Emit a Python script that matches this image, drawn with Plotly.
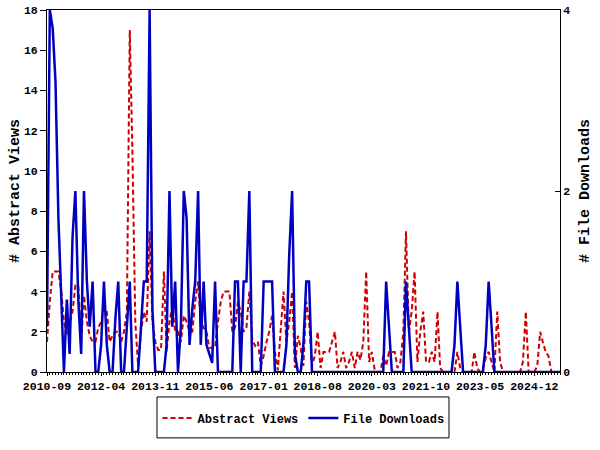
import pandas as pd
import plotly.graph_objects as go

# Monthly series, 2010-09 .. 2025-09
start_month = "2010-09-01"
abstract_views = [
    1.5, 3.5, 5.0, 5.0, 5.0, 4.0, 2.5, 1.9, 2.5, 3.0,
    4.3, 4.3, 1.5, 3.8, 2.5, 1.8, 1.5, 1.5, 2.2, 2.5,
    3.2, 3.0, 1.5, 1.8, 2.0, 2.0, 1.5, 2.0, 3.0, 17.0,
    11.0, 2.5, 0.3, 2.0, 3.0, 2.5, 7.0, 2.5, 1.5, 1.1,
    1.1, 5.0, 1.0, 2.5, 3.3, 2.0, 2.0, 1.5, 2.8, 2.5,
    2.0, 2.0, 3.5, 4.5, 2.5, 2.2, 2.0, 1.2, 1.2, 1.2,
    2.5, 3.5, 4.0, 4.0, 4.0, 2.0, 2.2, 3.5, 3.0, 2.0,
    2.2, 4.0, 1.6, 1.3, 1.5, 0.3, 0.8, 1.5, 2.0, 2.8,
    1.0, 0.1, 2.0, 4.0, 1.5, 2.5, 4.0, 0.2, 1.8, 1.2,
    0.3, 3.5, 2.5, 0.3, 0.8, 2.0, 0.2, 1.0, 1.0, 1.0,
    1.5, 2.0, 0.2, 0.5, 1.0, 0.2, 0.5, 1.0, 0.2, 1.0,
    0.6, 1.5, 5.0, 0.5, 1.0, 0.1, 0.0, 0.0, 0.8, 0.3,
    1.0, 1.0, 1.0, 0.2, 0.5, 2.0, 7.0, 2.0, 3.0, 5.0,
    0.5, 2.0, 3.0, 0.5, 0.5, 1.0, 0.5, 3.0, 0.2, 0.0,
    0.0, 0.0, 0.0, 0.0, 1.0, 0.2, 0.0, 0.0, 0.0, 0.0,
    1.0, 0.2, 0.0, 0.2, 0.7, 1.0, 0.5, 0.0, 3.0, 0.5,
    0.0, 0.0, 0.0, 0.0, 0.0, 0.0, 0.0, 0.5, 3.0, 0.0,
    0.0, 0.0, 0.3, 2.0, 1.5, 1.0, 0.8, 0.0, 0.0, 0.0,
    0.0,
]
file_downloads = [
    0.5, 4.0, 3.8, 3.2, 1.7, 0.8, 0.0, 0.8, 0.2, 1.5,
    2.0, 0.8, 0.2, 2.0, 1.0, 0.5, 1.0, 0.0, 0.0, 0.3,
    1.0, 0.3, 0.0, 0.0, 0.6, 1.0, 0.0, 0.0, 0.5, 1.0,
    0.0, 0.0, 0.0, 0.5, 1.0, 1.0, 4.0, 0.7, 0.0, 0.0,
    0.0, 0.0, 0.3, 2.0, 0.5, 1.0, 0.0, 0.5, 2.0, 1.7,
    0.3, 0.7, 1.0, 2.0, 0.3, 1.0, 0.3, 0.2, 0.1, 1.0,
    0.0, 0.0, 0.0, 0.0, 0.0, 0.0, 1.0, 1.0, 0.0, 1.0,
    1.0, 2.0, 0.0, 0.0, 0.0, 0.0, 1.0, 1.0, 1.0, 1.0,
    0.0, 0.0, 0.0, 0.0, 0.3, 1.3, 2.0, 0.2, 0.0, 0.0,
    0.3, 1.0, 1.0, 0.0, 0.0, 0.0, 0.0, 0.0, 0.0, 0.0,
    0.0, 0.0, 0.0, 0.0, 0.0, 0.0, 0.0, 0.0, 0.0, 0.0,
    0.0, 0.0, 0.0, 0.0, 0.0, 0.0, 0.0, 0.0, 0.0, 1.0,
    0.5, 0.0, 0.0, 0.0, 0.0, 0.0, 1.0, 0.5, 0.0, 0.0,
    0.0, 0.0, 0.0, 0.0, 0.0, 0.0, 0.0, 0.0, 0.0, 0.0,
    0.0, 0.0, 0.0, 0.3, 1.0, 0.5, 0.0, 0.0, 0.0, 0.0,
    0.0, 0.0, 0.0, 0.0, 0.3, 1.0, 0.5, 0.0, 0.0, 0.0,
    0.0, 0.0, 0.0, 0.0, 0.0, 0.0, 0.0, 0.0, 0.0, 0.0,
    0.0, 0.0, 0.0, 0.0, 0.0, 0.0, 0.0, 0.0, 0.0, 0.0,
    0.0,
]
tick_labels = ["2010-09", "2012-04", "2013-11", "2015-06", "2017-01",
               "2018-08", "2020-03", "2021-10", "2023-05", "2024-12"]
left_ticks = [0, 2, 4, 6, 8, 10, 12, 14, 16, 18]
right_ticks = [0, 2, 4]

months = pd.date_range(start_month, periods=len(abstract_views), freq="MS")
tick_dates = [pd.Timestamp(t + "-01") for t in tick_labels]

FONT = "Liberation Mono, DejaVu Sans Mono, monospace"
RED = "#cc0000"
BLUE = "#0000c0"

fig = go.Figure()
fig.add_trace(go.Scatter(
    x=months, y=file_downloads, name="File Downloads", mode="lines",
    line=dict(color=BLUE, width=2.5), yaxis="y2", legendrank=2))
fig.add_trace(go.Scatter(
    x=months, y=abstract_views, name="Abstract Views", mode="lines",
    line=dict(color=RED, width=2, dash="5px,3px"), yaxis="y", legendrank=1))

tickfont = dict(family=FONT, size=11.5, color="black", weight="bold")
titlefont = dict(family=FONT, size=15, color="black", weight="bold")

fig.update_layout(
    template="none",
    width=600, height=450,
    margin=dict(l=47, r=40, t=10, b=78, autoexpand=False),
    plot_bgcolor="white", paper_bgcolor="white",
    showlegend=True,
    legend=dict(orientation="h", x=0.5, xanchor="center", y=-0.127,
                yanchor="middle", font=dict(family=FONT, size=12, color="black", weight="bold"),
                bgcolor="rgba(0,0,0,0)", borderwidth=0, traceorder="normal"),
    xaxis=dict(
        type="date", range=[months[0], months[-1]],
        tickvals=tick_dates, ticktext=tick_labels,
        ticks="outside", ticklen=3, tickcolor="black", tickwidth=1,
        showline=True, linecolor="black", linewidth=1, mirror=True,
        showgrid=False, zeroline=False, tickfont=tickfont,
        minor=dict(ticks="outside", ticklen=2, dtick="M1", tick0=start_month,
                   tickcolor="black", showgrid=False),
    ),
    yaxis=dict(
        range=[0, 18], tickvals=left_ticks, ticktext=[str(v) for v in left_ticks],
        ticks="outside", ticklen=6, tickcolor="black",
        showline=True, linecolor="black", linewidth=1,
        showgrid=False, zeroline=False, tickfont=tickfont,
        title=dict(text="# Abstract Views", font=titlefont, standoff=0),
    ),
    yaxis2=dict(
        overlaying="y", side="right",
        range=[0, 4], tickvals=right_ticks, ticktext=[str(v) for v in right_ticks],
        ticks="inside", ticklen=5, tickcolor="black",
        showline=True, linecolor="black", linewidth=1,
        showgrid=False, zeroline=False, tickfont=tickfont,
        title=dict(text="# File Downloads", font=titlefont, standoff=9),
    ),
    shapes=[dict(type="rect", xref="paper", yref="paper",
                 x0=0.2144, x1=0.7836, y0=-0.182, y1=-0.069,
                 line=dict(color="black", width=1), fillcolor="rgba(0,0,0,0)")],
)

fig.write_html("out.html", config={"displayModeBar": False},
               post_script="document.body.style.margin='0';document.body.style.overflow='hidden';")
